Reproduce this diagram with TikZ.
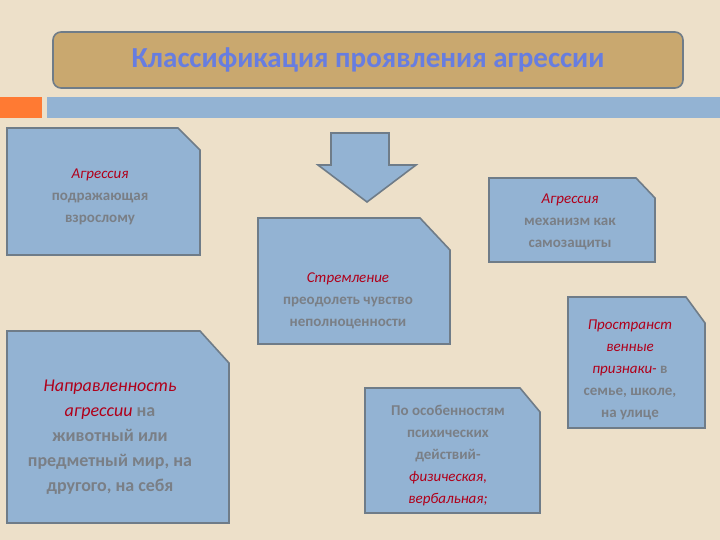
\documentclass[tikz,border=0pt]{standalone}
\usepackage{fontspec}
\setmainfont{Carlito}
\begin{document}
\begin{tikzpicture}[x=1pt,y=-1pt,
  box/.style={fill=boxc,draw=edgec,line width=1.6pt},
  txt/.style={align=center,font=\fontsize{15}{22}\selectfont,text=graytx},
  red/.style={}]
\definecolor{bg}{HTML}{EDE0C9}
\definecolor{boxc}{HTML}{93B3D3}
\definecolor{edgec}{HTML}{6F7C88}
\definecolor{graytx}{HTML}{7A7F86}
\definecolor{redtx}{HTML}{B0001A}
\definecolor{tan}{HTML}{C9A86F}
\newcommand{\rd}[1]{\textcolor{redtx}{\itshape #1}}
\fill[bg] (0,0) rectangle (720,540);
\useasboundingbox (0,0) rectangle (720,540);
\node[draw=edgec,line width=1.6pt,fill=tan,rounded corners=8pt,minimum width=630pt,minimum height=56pt] (title) at (368,60)
  {\fontsize{29}{30}\selectfont\bfseries\color{boxc!70!blue}Классификация проявления агрессии};
\fill[orange!70!red!80!white] (0,97) rectangle (42,118);
\fill[boxc] (47,97) rectangle (720,118);
\draw[box] (331,133) -- (389,133) -- (389,165) -- (416,165) -- (367,202) -- (318,165) -- (331,165) -- cycle;
\draw[box] (7,128) -- (178,128) -- (200,150) -- (200,255) -- (7,255) -- cycle;
\node[txt] (b1) at (100,197) {\rd{Агрессия}\\\textbf{подражающая}\\\textbf{взрослому}};
\draw[box] (258,218) -- (420,218) -- (450,250) -- (450,344) -- (258,344) -- cycle;
\node[txt] (b2) at (348,301) {\rd{Стремление}\\\textbf{преодолеть чувство}\\\textbf{неполноценности}};
\draw[box] (489,178) -- (636,178) -- (655,198) -- (655,262) -- (489,262) -- cycle;
\node[txt] (b3) at (570,222) {\rd{Агрессия}\\\textbf{механизм как}\\\textbf{самозащиты}};
\draw[box] (568,297) -- (686,297) -- (705,323) -- (705,428) -- (568,428) -- cycle;
\node[txt] (b4) at (630,370) {\rd{Пространст}\\\rd{венные}\\\rd{признаки-} \textbf{в}\\\textbf{семье, школе,}\\\textbf{на улице}};
\draw[box] (7,331) -- (200,331) -- (229,363) -- (229,523) -- (7,523) -- cycle;
\node[txt,font=\fontsize{18}{25}\selectfont] (b5) at (110,437) {\rd{Направленность}\\\rd{агрессии} \textbf{на}\\\textbf{животный или}\\\textbf{предметный мир, на}\\\textbf{другого, на себя}};
\draw[box] (365,388) -- (520,388) -- (540,412) -- (540,513) -- (365,513) -- cycle;
\node[txt] (b6) at (448,456) {\textbf{По особенностям}\\\textbf{психических}\\\textbf{действий-}\\\rd{физическая,}\\\rd{вербальная;}};
\end{tikzpicture}
\end{document}
